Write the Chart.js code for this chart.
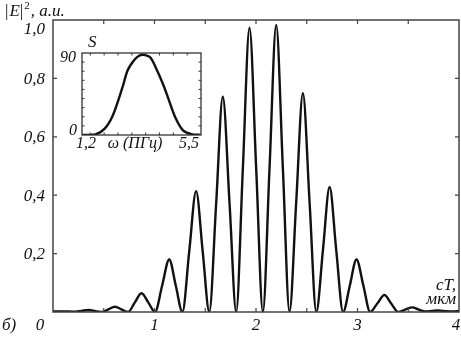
<!DOCTYPE html>
<html lang="ru">
<head>
<meta charset="UTF-8">
<title>|E|^2 (cT)</title>
<script src="https://cdn.jsdelivr.net/npm/chart.js"></script>
<style>
  body { margin: 0; background: #fff; }
  #wrap { position: relative; width: 461px; height: 339px; }
  #inset { position: absolute; left: 60px; top: 30px; }
</style>
</head>
<body>
<div id="wrap">
  <canvas id="main" width="461" height="339"></canvas>
  <canvas id="inset" width="150" height="130"></canvas>
</div>

<script>
  // основная кривая |E|^2 (cT), мкм
  const cT = [0, 0.1, 0.2, 0.28, 0.35, 0.42, 0.48, 0.545, 0.61, 0.675, 0.74,
    0.805, 0.872, 0.94, 1.005, 1.075, 1.145, 1.21, 1.275,
    1.342, 1.41, 1.475, 1.54, 1.607, 1.673, 1.74, 1.805,
    1.87, 1.936, 2.002, 2.068, 2.133, 2.199, 2.265, 2.33,
    2.396, 2.462, 2.528, 2.594, 2.66, 2.725, 2.79, 2.858,
    2.924, 2.99, 3.058, 3.125, 3.195, 3.265, 3.332, 3.4,
    3.47, 3.54, 3.605, 3.67, 3.74, 3.8, 3.87, 3.93, 4.0];
  const E2 = [0.002, 0.002, 0.001, 0.004, 0.007, 0.003, 0.0, 0.009, 0.018, 0.009, 0.0,
    0.032, 0.064, 0.032, 0.0, 0.09, 0.18, 0.09, 0.0,
    0.207, 0.414, 0.207, 0.0, 0.368, 0.737, 0.368, 0.0,
    0.487, 0.974, 0.49, 0.0, 0.49, 0.983, 0.49, 0.0,
    0.375, 0.749, 0.375, 0.0, 0.214, 0.428, 0.214, 0.0,
    0.09, 0.18, 0.09, 0.0, 0.029, 0.058, 0.029, 0.0,
    0.008, 0.016, 0.008, 0.002, 0.004, 0.005, 0.003, 0.002, 0.003];

  // вставка: спектр S(ω), ПГц
  const omega = [1.2, 1.67, 2.02, 2.32, 2.67, 2.85, 3.08, 3.26, 3.44, 3.67, 3.91, 4.15, 4.32, 4.56, 4.85, 5.15, 5.5];
  const S = [0, 0.5, 7, 22, 53, 71, 82, 87, 88, 85, 71, 54, 40, 20, 5, 1, 0];

  const xTicks = [0, 1, 2, 3, 4];
  const xTickLabels = ["0", "1", "2", "3", "4"];
  const yTicks = [0.2, 0.4, 0.6, 0.8, 1.0];
  const yTickLabels = ["0,2", "0,4", "0,6", "0,8", "1,0"];

  const serif = '"Liberation Serif", "Times New Roman", serif';
  const ink = "#111";

  const toPoints = (xs, ys) => xs.map((x, i) => ({ x: x, y: ys[i] }));

  // рамка, внутренние засечки и подписи основного графика
  const mainFrame = {
    id: "mainFrame",
    afterDraw(chart) {
      const ctx = chart.ctx;
      const a = chart.chartArea;
      const sx = chart.scales.x;
      const sy = chart.scales.y;
      ctx.save();
      ctx.strokeStyle = "#444";
      ctx.lineWidth = 1.5;
      ctx.strokeRect(a.left, a.top, a.right - a.left, a.bottom - a.top);

      ctx.lineWidth = 1.2;
      ctx.beginPath();
      for (let v = 0.5; v < 4; v += 0.5) {
        const px = sx.getPixelForValue(v);
        ctx.moveTo(px, a.bottom); ctx.lineTo(px, a.bottom - 4);
        ctx.moveTo(px, a.top); ctx.lineTo(px, a.top + 4);
      }
      for (let v = 0.2; v < 0.99; v += 0.2) {
        const py = sy.getPixelForValue(v);
        ctx.moveTo(a.left, py); ctx.lineTo(a.left + 4, py);
        ctx.moveTo(a.right, py); ctx.lineTo(a.right - 4, py);
      }
      ctx.stroke();

      ctx.fillStyle = ink;
      ctx.font = "italic 17px " + serif;
      ctx.textAlign = "right";
      ctx.textBaseline = "middle";
      yTicks.forEach((v, i) => {
        const dy = v === 1.0 ? 10 : 1;
        ctx.fillText(yTickLabels[i], a.left - 8, sy.getPixelForValue(v) + dy);
      });

      ctx.textAlign = "center";
      xTicks.forEach((v, i) => {
        let dx = 0;
        if (v === 0) dx = -13;
        if (v === 4) dx = -3;
        ctx.fillText(xTickLabels[i], sx.getPixelForValue(v) + dx, 326);
      });

      ctx.textAlign = "left";
      ctx.fillText("б)", 2, 326);

      // |E|^2, a.u.
      ctx.textBaseline = "alphabetic";
      let x = 5;
      ctx.font = "17px " + serif;
      ctx.fillText("|", x, 16); x += ctx.measureText("|").width + 1;
      ctx.font = "italic 17px " + serif;
      ctx.fillText("E", x, 16); x += ctx.measureText("E").width;
      ctx.font = "17px " + serif;
      ctx.fillText("|", x, 16); x += ctx.measureText("|").width;
      ctx.font = "11px " + serif;
      ctx.fillText("2", x + 1, 9); x += ctx.measureText("2").width + 2;
      ctx.font = "italic 17px " + serif;
      ctx.fillText(", a.u.", x, 16);

      ctx.textAlign = "right";
      ctx.fillText("cT,", 456, 290);
      ctx.fillText("мкм", 456, 304);
      ctx.restore();
    }
  };

  new Chart(document.getElementById("main"), {
    type: "line",
    data: {
      datasets: [{
        data: toPoints(cT, E2),
        borderColor: ink,
        borderWidth: 2.4,
        pointRadius: 0,
        cubicInterpolationMode: "monotone",
        fill: false
      }]
    },
    options: {
      responsive: false,
      animation: false,
      layout: { padding: { left: 53, top: 20, right: 2, bottom: 27 } },
      plugins: { legend: { display: false }, tooltip: { enabled: false } },
      scales: {
        x: { type: "linear", min: 0, max: 4, display: false },
        y: { type: "linear", min: 0, max: 1, display: false }
      }
    },
    plugins: [mainFrame]
  });

  // вставка
  const insetFrame = {
    id: "insetFrame",
    beforeDatasetsDraw(chart) {
      const a = chart.chartArea;
      chart.ctx.save();
      chart.ctx.fillStyle = "#fff";
      chart.ctx.fillRect(a.left, a.top, a.right - a.left, a.bottom - a.top);
      chart.ctx.restore();
    },
    afterDraw(chart) {
      const ctx = chart.ctx;
      const a = chart.chartArea;
      const sx = chart.scales.x;
      const sy = chart.scales.y;
      ctx.save();
      ctx.strokeStyle = "#333";
      ctx.lineWidth = 1.3;
      ctx.strokeRect(a.left, a.top, a.right - a.left, a.bottom - a.top);
      ctx.lineWidth = 1;
      ctx.beginPath();
      for (let v = 1.5; v < 5.5; v += 0.5) {
        const px = sx.getPixelForValue(v);
        ctx.moveTo(px, a.bottom); ctx.lineTo(px, a.bottom - 2.5);
        ctx.moveTo(px, a.top); ctx.lineTo(px, a.top + 2.5);
      }
      for (let v = 10; v < 90; v += 10) {
        const py = sy.getPixelForValue(v);
        ctx.moveTo(a.left, py); ctx.lineTo(a.left + 2.5, py);
        ctx.moveTo(a.right, py); ctx.lineTo(a.right - 2.5, py);
      }
      ctx.stroke();

      ctx.fillStyle = ink;
      ctx.font = "italic 17px " + serif;
      ctx.textAlign = "left";
      ctx.textBaseline = "alphabetic";
      ctx.fillText("S", a.left + 6, a.top - 6);

      ctx.font = "italic 16px " + serif;
      ctx.textAlign = "right";
      ctx.textBaseline = "middle";
      ctx.fillText("90", a.left - 6, sy.getPixelForValue(90) + 5);
      ctx.fillText("0", a.left - 5, sy.getPixelForValue(0) - 4);

      ctx.textAlign = "center";
      ctx.fillText("1,2", sx.getPixelForValue(1.2) + 4, a.bottom + 9);
      ctx.fillText("5,5", sx.getPixelForValue(5.5) - 12, a.bottom + 9);
      ctx.fillText("ω (ПГц)", 75, a.bottom + 9);
      ctx.restore();
    }
  };

  new Chart(document.getElementById("inset"), {
    type: "line",
    data: {
      datasets: [{
        data: toPoints(omega, S),
        borderColor: ink,
        borderWidth: 2.4,
        pointRadius: 0,
        tension: 0.3,
        fill: false
      }]
    },
    options: {
      responsive: false,
      animation: false,
      layout: { padding: { left: 22, top: 23, right: 9, bottom: 25 } },
      plugins: { legend: { display: false }, tooltip: { enabled: false } },
      scales: {
        x: { type: "linear", min: 1.2, max: 5.5, display: false },
        y: { type: "linear", min: 0, max: 90, display: false }
      }
    },
    plugins: [insetFrame]
  });
</script>
</body>
</html>
